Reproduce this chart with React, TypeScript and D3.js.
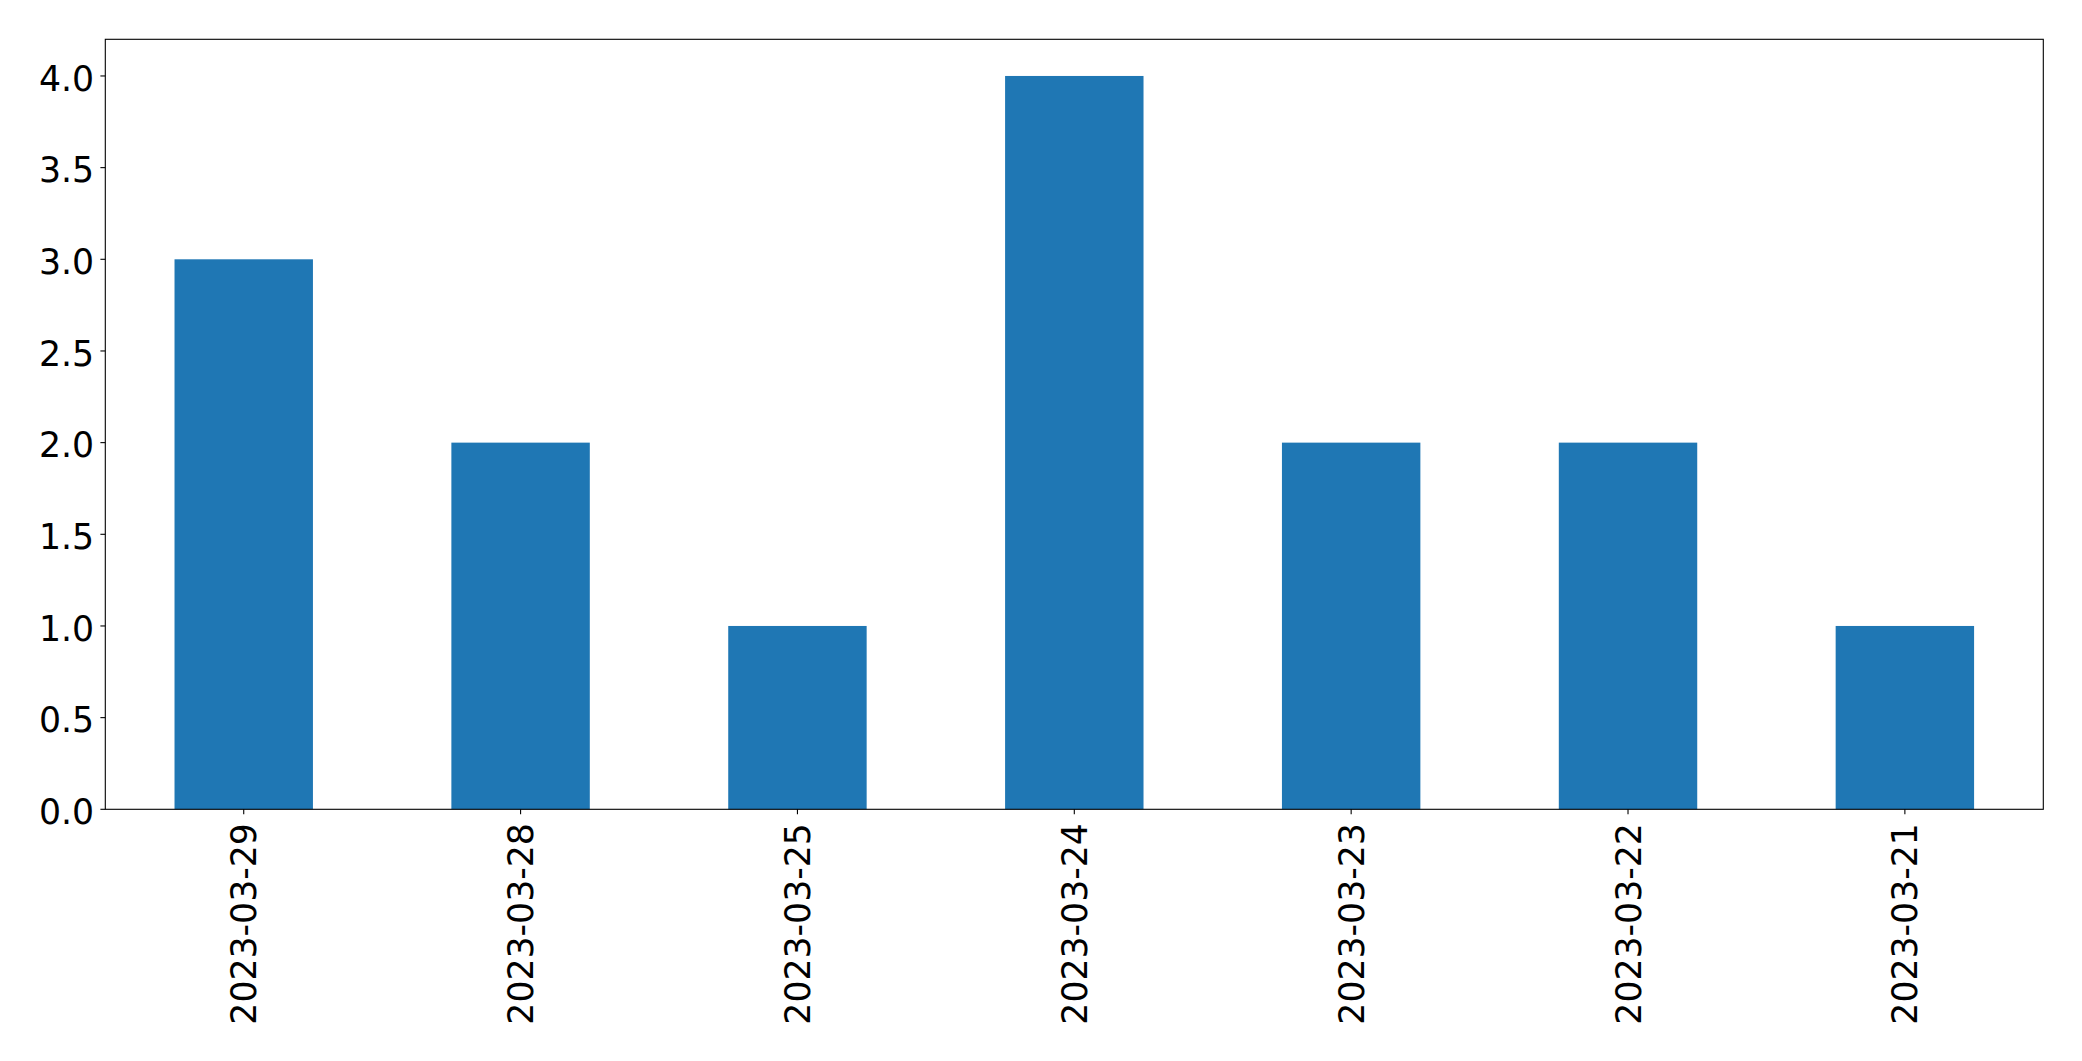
import React from "react";
import * as d3 from "d3";

const categories = ["2023-03-29", "2023-03-28", "2023-03-25", "2023-03-24", "2023-03-23", "2023-03-22", "2023-03-21"];
const values = [3, 2, 1, 4, 2, 2, 1];
const yTicks = [0, 0.5, 1, 1.5, 2, 2.5, 3, 3.5, 4];

const W = 2082, H = 1061;
const left = 105.3, right = 2043.3, top = 39.3, bottom = 809.3;
const fs = 34.7;
const tickLen = 4.9, pad = 4.9;

export default function App() {
  const x = d3.scaleLinear().domain([-0.5, categories.length - 0.5]).range([left, right]);
  const y = d3.scaleLinear().domain([0, 4.2]).range([bottom, top]);
  const bw = x(0.25) - x(-0.25);
  const font = "DejaVu Sans, sans-serif";
  return (
    <svg width={W} height={H} style={{ position: "absolute", left: 0, top: 0 }}>
      <rect x={0} y={0} width={W} height={H} fill="#fff" />
      {values.map((v, i) => (
        <rect key={i} x={x(i) - bw / 2} y={y(v)} width={bw} height={y(0) - y(v)} fill="#1f77b4" />
      ))}
      <rect x={left} y={top} width={right - left} height={bottom - top} fill="none" stroke="#000" strokeWidth={1.1} />
      {yTicks.map((t) => (
        <g key={t}>
          <line x1={left - tickLen} x2={left} y1={y(t)} y2={y(t)} stroke="#000" strokeWidth={1.1} />
          <text x={left - tickLen - pad - 1.4} y={y(t)} dy="0.42em" textAnchor="end" fontSize={fs} fontFamily={font}>
            {d3.format(".1f")(t)}
          </text>
        </g>
      ))}
      {categories.map((c, i) => (
        <g key={c}>
          <line x1={x(i)} x2={x(i)} y1={bottom} y2={bottom + tickLen} stroke="#000" strokeWidth={1.1} />
          <text
            transform={`translate(${x(i)},${bottom + tickLen + pad + 4}) rotate(-90)`}
            dy="0.36em"
            textAnchor="end"
            fontSize={fs}
            fontFamily={font}
          >
            {c}
          </text>
        </g>
      ))}
    </svg>
  );
}
